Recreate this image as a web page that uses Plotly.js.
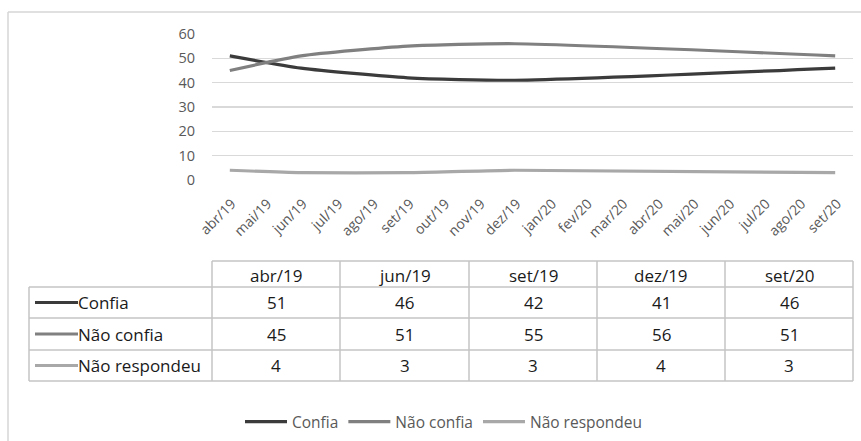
<!DOCTYPE html>
<html>
<head>
<meta charset="utf-8">
<script src="https://cdn.plot.ly/plotly-3.0.1.min.js"></script>
<style>
  html, body { margin: 0; padding: 0; background: #ffffff; }
  #chart { width: 861px; height: 441px; }
</style>
</head>
<body>
<div id="chart"></div>
<script>
// Monthly axis categories (abr/19 .. set/20)
const months = ['abr/19','mai/19','jun/19','jul/19','ago/19','set/19','out/19','nov/19',
                'dez/19','jan/20','fev/20','mar/20','abr/20','mai/20','jun/20','jul/20',
                'ago/20','set/20'];

// Survey rounds and results (%)
const surveyDates = ['abr/19','jun/19','set/19','dez/19','set/20'];
const seriesNames = ['Confia','Não confia','Não respondeu'];
const confia       = [51, 46, 42, 41, 46];
const naoConfia    = [45, 51, 55, 56, 51];
const naoRespondeu = [4, 3, 3, 4, 3];

const seriesValues = [confia, naoConfia, naoRespondeu];
const seriesColors = ['#3b3b3b', '#808080', '#a8a8a8'];

const W = 861, H = 441;
const px = x => x / W;
const py = y => 1 - y / H;

const FONT = 'Open Sans, Noto Sans, sans-serif';
const GREY_TEXT = '#595959';
const GRID = '#d9d9d9';
const TABLE_LINE = '#c4c4c4';

// Line traces
const traces = seriesNames.map((name, i) => ({
  type: 'scatter',
  mode: 'lines',
  name: name,
  x: surveyDates,
  y: seriesValues[i],
  line: { color: seriesColors[i], width: 3.2, shape: 'spline', smoothing: 0.6 },
  hoverinfo: 'x+y+name'
}));

// Full month axis, so every category gets its slot
traces.unshift({
  type: 'scatter', mode: 'lines', x: months, y: months.map(() => null),
  showlegend: false, hoverinfo: 'skip'
});

// Data table under the chart
const colX = [212, 340, 469, 597, 725, 853];
const tableLeft = 29;
const headerTop = 261, headerBottom = 287;
const rowLines = [287, 318, 350, 381];

const shapes = [];
const annotations = [];
const hline = (x0, x1, y, color, width) => shapes.push({
  type: 'line', xref: 'paper', yref: 'paper',
  x0: px(x0), x1: px(x1), y0: py(y), y1: py(y),
  line: { color: color, width: width }
});
const vline = (x, y0, y1, color, width) => shapes.push({
  type: 'line', xref: 'paper', yref: 'paper',
  x0: px(x), x1: px(x), y0: py(y0), y1: py(y1),
  line: { color: color, width: width }
});

// outer chart frame
vline(8, 12, 441, '#d6d6d6', 1.5);
hline(8, 861, 12, '#d6d6d6', 1.5);

// header row lines
hline(colX[0], colX[5], headerTop, TABLE_LINE, 1.5);
// body row lines
rowLines.forEach(y => hline(tableLeft, colX[5], y, TABLE_LINE, 1.5));
// column lines
vline(tableLeft, rowLines[0], rowLines[3], TABLE_LINE, 1.5);
colX.forEach(x => vline(x, headerTop, rowLines[3], TABLE_LINE, 1.5));

const tableFont = { family: FONT, size: 17, color: '#1a1a1a' };

// column headers
surveyDates.forEach((d, j) => annotations.push({
  xref: 'paper', yref: 'paper',
  x: px((colX[j] + colX[j + 1]) / 2), y: py((headerTop + headerBottom) / 2 + 1.5),
  text: d, showarrow: false, xanchor: 'center', yanchor: 'middle', font: tableFont
}));

// rows: legend key, series name, values
seriesNames.forEach((name, i) => {
  const yc = (rowLines[i] + rowLines[i + 1]) / 2;
  hline(35, 78, yc, seriesColors[i], 3.2);
  annotations.push({
    xref: 'paper', yref: 'paper', x: px(76), y: py(yc),
    text: name, showarrow: false, xanchor: 'left', yanchor: 'middle', font: tableFont
  });
  seriesValues[i].forEach((v, j) => annotations.push({
    xref: 'paper', yref: 'paper',
    x: px((colX[j] + colX[j + 1]) / 2), y: py(yc),
    text: String(v), showarrow: false, xanchor: 'center', yanchor: 'middle', font: tableFont
  }));
});

const layout = {
  width: W, height: H,
  margin: { l: 0, r: 0, t: 0, b: 0 },
  paper_bgcolor: '#ffffff',
  plot_bgcolor: '#ffffff',
  font: { family: FONT, color: GREY_TEXT },
  showlegend: true,
  legend: {
    orientation: 'h',
    x: px(444), xanchor: 'center',
    y: py(422), yanchor: 'middle',
    itemwidth: 42,
    font: { family: FONT, size: 15.5, color: GREY_TEXT },
    bgcolor: 'rgba(0,0,0,0)'
  },
  xaxis: {
    domain: [px(212), px(853)],
    type: 'category',
    categoryorder: 'array',
    categoryarray: months,
    range: [-0.5, months.length - 0.5],
    showgrid: false, zeroline: false, showline: false,
    ticks: '',
    tickangle: -45,
    ticklabelstandoff: 12,
    ticklabelshift: 2,
    tickfont: { family: FONT, size: 14, color: GREY_TEXT },
    automargin: false,
    fixedrange: true
  },
  yaxis: {
    domain: [py(180), py(34)],
    range: [0, 60],
    dtick: 10,
    showgrid: true, gridcolor: GRID, gridwidth: 1.2,
    zeroline: false, showline: false,
    ticks: '',
    ticklabelstandoff: 16,
    tickfont: { family: FONT, size: 14.5, color: GREY_TEXT },
    automargin: false,
    fixedrange: true
  },
  shapes: shapes,
  annotations: annotations
};

Plotly.newPlot('chart', traces, layout, { displayModeBar: false, staticPlot: true });
</script>
</body>
</html>
